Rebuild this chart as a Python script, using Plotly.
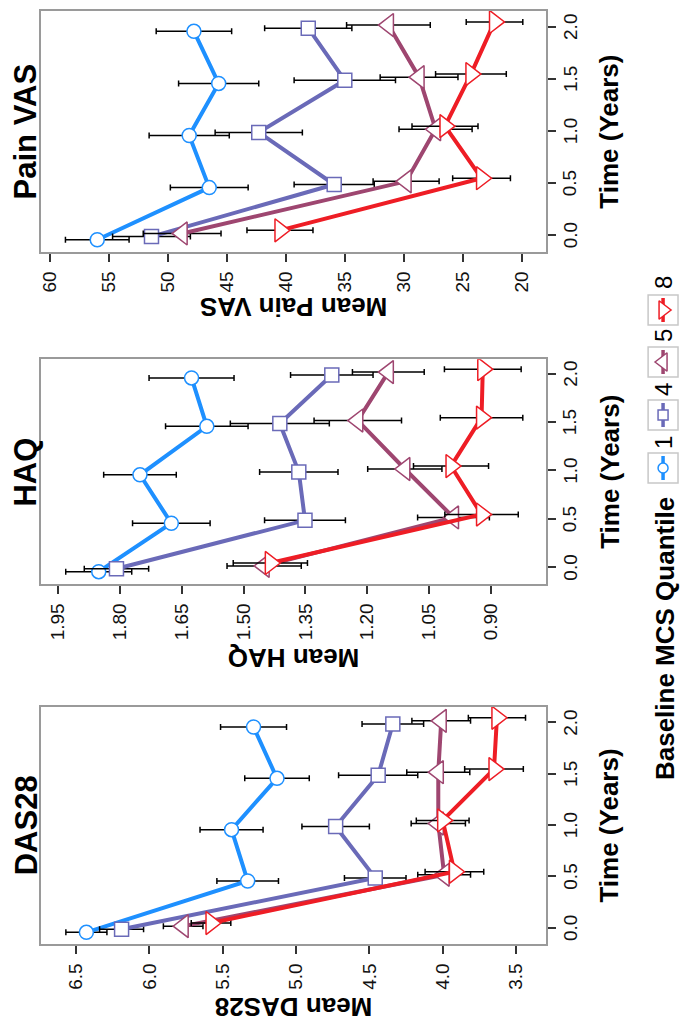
import plotly.graph_objects as go

# ---- data -------------------------------------------------------------
times = [0.0, 0.5, 1.0, 1.5, 2.0]
quantiles = ["1", "4", "5", "8"]

# DAS28 means and half-widths of the error bars, per baseline MCS quantile
das28_q1 = [6.43, 5.33, 5.44, 5.13, 5.29]
das28_q4 = [6.19, 4.46, 4.73, 4.44, 4.34]
das28_q5 = [5.77, 3.99, 4.03, 4.03, 4.01]
das28_q8 = [5.58, 3.92, 4.00, 3.65, 3.63]
das28_q1_err = [0.14, 0.21, 0.215, 0.22, 0.225]
das28_q4_err = [0.15, 0.21, 0.23, 0.27, 0.21]
das28_q5_err = [0.135, 0.18, 0.185, 0.215, 0.20]
das28_q8_err = [0.135, 0.20, 0.18, 0.20, 0.195]

# HAQ
haq_q1 = [1.851, 1.675, 1.751, 1.589, 1.626]
haq_q4 = [1.808, 1.351, 1.366, 1.412, 1.286]
haq_q5 = [1.450, 0.991, 1.109, 1.223, 1.149]
haq_q8 = [1.435, 0.923, 0.997, 0.923, 0.920]
haq_q1_err = [0.08, 0.094, 0.088, 0.10, 0.103]
haq_q4_err = [0.078, 0.098, 0.095, 0.12, 0.10]
haq_q5_err = [0.09, 0.087, 0.09, 0.106, 0.087]
haq_q8_err = [0.09, 0.089, 0.091, 0.10, 0.093]

# Pain VAS
pain_q1 = [56.0, 46.5, 48.2, 45.7, 47.8]
pain_q4 = [51.4, 35.9, 42.3, 35.0, 38.1]
pain_q5 = [48.8, 29.8, 27.3, 28.7, 31.3]
pain_q8 = [40.5, 23.4, 26.5, 24.3, 22.3]
pain_q1_err = [2.7, 3.3, 3.4, 3.4, 3.2]
pain_q4_err = [3.3, 3.4, 3.7, 4.3, 3.7]
pain_q5_err = [3.3, 2.8, 3.1, 3.3, 3.55]
pain_q8_err = [2.8, 2.45, 2.8, 3.0, 2.4]

das28_ticks = [3.5, 4.0, 4.5, 5.0, 5.5, 6.0, 6.5]
haq_ticks = [0.90, 1.05, 1.20, 1.35, 1.50, 1.65, 1.80, 1.95]
pain_ticks = [20, 25, 30, 35, 40, 45, 50, 55, 60]
time_ticks = [0.0, 0.5, 1.0, 1.5, 2.0]

# ---- styling ----------------------------------------------------------
W, H = 684, 1034
FONT = "Liberation Sans, Arial, sans-serif"
colors = {"1": "#1E90FF", "4": "#6A6AB8", "5": "#9E4670", "8": "#EE1D25"}
symbols = {"1": "circle", "4": "square", "5": "triangle-left", "8": "triangle-right"}
msize = {"1": 14, "4": 14, "5": 20, "8": 20}
dodge = {"1": -0.045, "4": -0.015, "5": 0.015, "8": 0.045}

panels = [
    # name, axis suffix, means, errors, ticks, tick format, value range, time range, px box (top, bottom), title y
    ("Pain VAS", "", {"1": pain_q1, "4": pain_q4, "5": pain_q5, "8": pain_q8},
     {"1": pain_q1_err, "4": pain_q4_err, "5": pain_q5_err, "8": pain_q8_err},
     pain_ticks, "{:.0f}", [60.74, 17.94], [-0.163, 2.15], (11.0, 252.0), 307),
    ("HAQ", "2", {"1": haq_q1, "4": haq_q4, "5": haq_q5, "8": haq_q8},
     {"1": haq_q1_err, "4": haq_q4_err, "5": haq_q5_err, "8": haq_q8_err},
     haq_ticks, "{:.2f}", [1.99, 0.767], [-0.172, 2.147], (359.3, 584.0), 658),
    ("DAS28", "3", {"1": das28_q1, "4": das28_q4, "5": das28_q5, "8": das28_q8},
     {"1": das28_q1_err, "4": das28_q4_err, "5": das28_q5_err, "8": das28_q8_err},
     das28_ticks, "{:.1f}", [6.737, 3.296], [-0.159, 2.153], (706.7, 944.0), 1007),
]

box_left, box_right = 39.5, 545.5
time_label_x = 570

fig = go.Figure()
annotations = []
layout_axes = {}

for name, sfx, means, errs, ticks, fmt, vrange, trange, (ptop, pbot), ty in panels:
    xa = "x" + sfx
    ya = "y" + sfx
    for q in quantiles:
        fig.add_trace(go.Scatter(
            x=means[q],
            y=[t + dodge[q] for t in times],
            xaxis=xa, yaxis=ya,
            mode="lines+markers",
            line=dict(color=colors[q], width=4),
            marker=dict(symbol=symbols[q], size=msize[q], color="white",
                        line=dict(color=colors[q], width=1.5)),
            error_x=dict(type="data", array=errs[q], symmetric=True,
                         color="black", thickness=1.5, width=3),
            showlegend=False,
        ))
    layout_axes["xaxis" + sfx] = dict(
        domain=[box_left / W, box_right / W], anchor=ya, range=vrange,
        tickvals=ticks, ticktext=[fmt.format(v) for v in ticks],
        tickangle=-90, ticks="outside", ticklen=8, tickwidth=1.5, tickcolor="#333",
        ticklabelstandoff=2,
        showline=True, mirror=True, linecolor="#9a9a9a", linewidth=1.5,
        showgrid=False, zeroline=False,
        tickfont=dict(family=FONT, size=19, color="#111"),
    )
    layout_axes["yaxis" + sfx] = dict(
        domain=[1 - pbot / H, 1 - ptop / H], anchor=xa, side="right", range=trange,
        tickvals=time_ticks, showticklabels=False,
        ticks="outside", ticklen=8, tickwidth=1.5, tickcolor="#333",
        showline=True, mirror=True, linecolor="#9a9a9a", linewidth=1.5,
        showgrid=False, zeroline=False,
    )
    # rotated time tick labels, placed in data units along the time axis
    for tv in time_ticks:
        annotations.append(dict(text="{:.1f}".format(tv), x=time_label_x / W, y=tv,
                                xref="paper", yref=ya, showarrow=False, textangle=-90,
                                xanchor="center", yanchor="middle",
                                font=dict(family=FONT, size=19, color="#111")))
    cy = (ptop + pbot) / 2
    annotations.append(dict(text=name, x=24 / W, y=1 - cy / H, xref="paper", yref="paper",
                            showarrow=False, textangle=-90, xanchor="center", yanchor="middle",
                            font=dict(family=FONT, size=31, color="black", weight="bold")))
    annotations.append(dict(text="Time (Years)", x=609 / W, y=1 - cy / H, xref="paper", yref="paper",
                            showarrow=False, textangle=-90, xanchor="center", yanchor="middle",
                            font=dict(family=FONT, size=26, color="black", weight="bold")))
    annotations.append(dict(text="Mean " + name, x=((box_left + box_right) / 2) / W, y=1 - ty / H,
                            xref="paper", yref="paper", showarrow=False, textangle=180,
                            xanchor="center", yanchor="middle",
                            font=dict(family=FONT, size=26, color="black", weight="bold")))

# ---- legend (drawn on a pixel-scaled overlay axis) --------------------
key_cx = 663
key_cy = {"1": 468, "4": 415, "5": 362, "8": 310}
label_cy = {"1": 443, "4": 390, "5": 336, "8": 283}
shapes = []
for q in quantiles:
    cyk = key_cy[q]
    shapes.append(dict(type="rect", xref="x4", yref="y4", x0=key_cx - 15, x1=key_cx + 15,
                       y0=cyk - 15, y1=cyk + 15, line=dict(color="#c8c8c8", width=1.5),
                       fillcolor="white", layer="below"))
    fig.add_trace(go.Scatter(
        x=[key_cx, key_cx, key_cx], y=[cyk - 12, cyk, cyk + 12], xaxis="x4", yaxis="y4",
        mode="lines", line=dict(color=colors[q], width=3.5), showlegend=False, hoverinfo="skip"))
    fig.add_trace(go.Scatter(
        x=[key_cx], y=[cyk], xaxis="x4", yaxis="y4", mode="markers",
        marker=dict(symbol=symbols[q], size=msize[q] - 4, color="white",
                    line=dict(color=colors[q], width=1.5)),
        showlegend=False, hoverinfo="skip"))
    annotations.append(dict(text=q, x=key_cx, y=label_cy[q], xref="x4", yref="y4",
                            showarrow=False, textangle=-90, xanchor="center", yanchor="middle",
                            font=dict(family=FONT, size=24, color="black")))

annotations.append(dict(text="Baseline MCS Quantile", x=665 / W, y=1 - 639 / H,
                        xref="paper", yref="paper", showarrow=False, textangle=-90,
                        xanchor="center", yanchor="middle",
                        font=dict(family=FONT, size=26, color="black", weight="bold")))

layout_axes["xaxis4"] = dict(domain=[0, 1], anchor="y4", range=[0, W], visible=False, fixedrange=True)
layout_axes["yaxis4"] = dict(domain=[0, 1], anchor="x4", range=[H, 0], visible=False, fixedrange=True)

fig.update_layout(
    width=W, height=H,
    margin=dict(l=0, r=0, t=0, b=0),
    paper_bgcolor="white", plot_bgcolor="rgba(0,0,0,0)",
    annotations=annotations, shapes=shapes,
    showlegend=False,
    **layout_axes,
)

fig.write_html("out.html")
